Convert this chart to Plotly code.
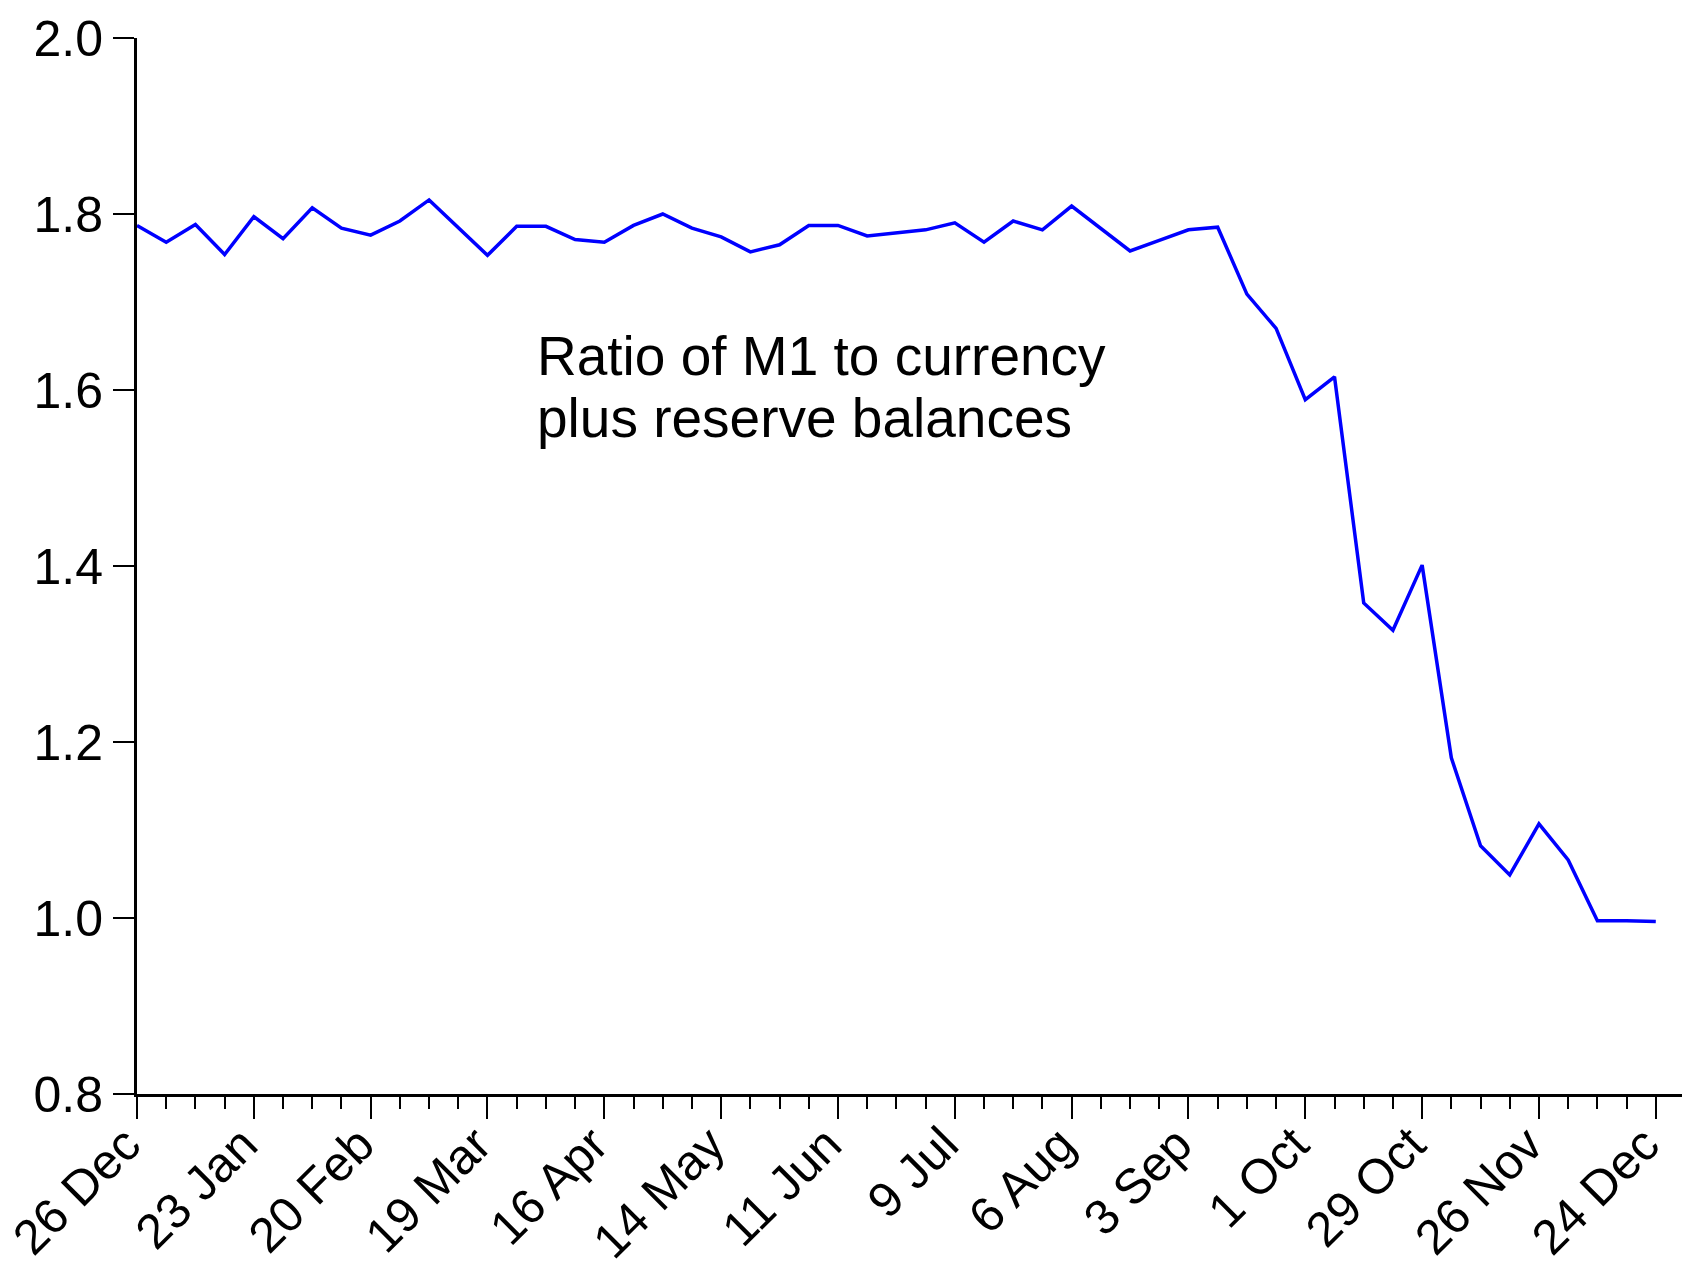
import pandas as pd
import plotly.graph_objects as go

# Weekly observations, 26 Dec 2007 to 24 Dec 2008
start_date = "2007-12-26"
n_weeks = 53
ratio = [
    1.787, 1.768, 1.788, 1.754, 1.797, 1.772, 1.807, 1.784, 1.776, 1.792,
    1.816, 1.784, 1.753, 1.786, 1.786, 1.771, 1.768, 1.787, 1.800, 1.784,
    1.774, 1.757, 1.765, 1.787, 1.787, 1.775, 1.779, 1.782, 1.790, 1.768,
    1.792, 1.782, 1.809, 1.784, 1.758, 1.770, 1.782, 1.785, 1.709, 1.670,
    1.589, 1.615, 1.358, 1.327, 1.401, 1.182, 1.082, 1.049, 1.107, 1.066,
    0.997, 0.997, 0.996,
]

tick_dates = [
    "2007-12-26", "2008-01-23", "2008-02-20", "2008-03-19", "2008-04-16",
    "2008-05-14", "2008-06-11", "2008-07-09", "2008-08-06", "2008-09-03",
    "2008-10-01", "2008-10-29", "2008-11-26", "2008-12-24",
]
tick_labels = [
    "26 Dec", "23 Jan", "20 Feb", "19 Mar", "16 Apr", "14 May", "11 Jun",
    "9 Jul", "6 Aug", "3 Sep", "1 Oct", "29 Oct", "26 Nov", "24 Dec",
]
y_ticks = [0.8, 1.0, 1.2, 1.4, 1.6, 1.8, 2.0]
label_lines = ["Ratio of M1 to currency", "plus reserve balances"]

dates = pd.date_range(start_date, periods=n_weeks, freq="7D")

fig = go.Figure()
fig.add_trace(go.Scatter(
    x=dates,
    y=ratio,
    mode="lines",
    line=dict(color="#0000ff", width=3.5),
    showlegend=False,
))

# two annotations so the line spacing can be kept tight
for k, line in enumerate(label_lines):
    fig.add_annotation(
        text=line,
        xref="paper", yref="paper",
        x=0.257, y=0.73 - 0.059 * k,
        xanchor="left", yanchor="top",
        align="left", showarrow=False,
        font=dict(size=55, color="black"),
    )

# page body adds an 8px margin, so the figure is sized to fit the window
fig.update_layout(
    width=1682, height=1267,
    margin=dict(l=129, r=5, t=30, b=181),
    paper_bgcolor="white",
    plot_bgcolor="white",
    font=dict(family="Liberation Sans, Arial, sans-serif", color="black"),
)

fig.update_xaxes(
    type="date",
    range=["2007-12-26", "2008-12-31"],
    tickvals=tick_dates,
    ticktext=tick_labels,
    tickangle=-45,
    tickfont=dict(size=49),
    ticklabelstandoff=-23,
    ticklabelshift=-11,
    ticklabeloverflow="allow",
    ticks="outside", ticklen=22, tickwidth=2, tickcolor="black",
    minor=dict(ticks="outside", ticklen=12, tickwidth=2, tickcolor="black",
               dtick=7 * 86400000, tick0="2007-12-26", showgrid=False),
    showline=True, linecolor="black", linewidth=3,
    showgrid=False, zeroline=False, automargin=False,
)

fig.update_yaxes(
    range=[0.8, 2.0],
    tickvals=y_ticks,
    tickformat=".1f",
    tickfont=dict(size=50),
    ticks="outside", ticklen=21, tickwidth=2, tickcolor="black",
    showline=True, linecolor="black", linewidth=3,
    showgrid=False, zeroline=False, automargin=False,
)

fig.write_html("out.html")
